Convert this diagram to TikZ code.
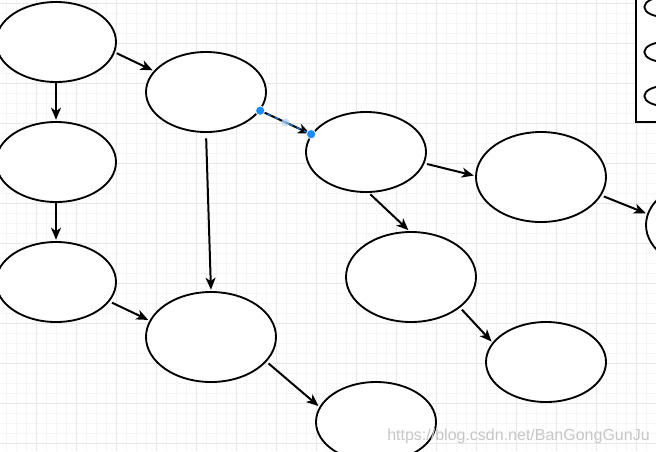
\documentclass[tikz,border=0pt]{standalone}
\usepackage{fontspec}
\setmainfont{Liberation Sans}
\usetikzlibrary{shapes.geometric,arrows.meta,calc}
\definecolor{minorgrid}{HTML}{F5F5F5}
\definecolor{majorgrid}{HTML}{E7E7E7}
\definecolor{handle}{HTML}{1A8CFF}
\begin{document}
\begin{tikzpicture}[x=0.75pt,y=-0.75pt,
 ell/.style={ellipse, draw=black, fill=white, line width=1.4pt, inner sep=0pt, minimum width=90pt, minimum height=60pt},
 big/.style={ell, minimum width=97.5pt, minimum height=67.5pt},
 small/.style={ell, minimum width=31pt, minimum height=15pt},
 conn/.style={line width=1.5pt, shorten >=1pt, -{Stealth[length=9pt,width=7.5pt,inset=2.5pt]}},
 hdl/.style={circle, fill=handle, draw=white, line width=0.6pt, minimum size=7pt, inner sep=0pt},
 ]
\useasboundingbox (0,0) rectangle (656,451);
\clip (0,0) rectangle (656,451);
\fill[white] (0,0) rectangle (656,451);
\foreach \x in {6,16,...,656} \draw[minorgrid, line width=0.75pt] (\x,0) -- (\x,451);
\foreach \y in {3,13,...,451} \draw[minorgrid, line width=0.75pt] (0,\y) -- (656,\y);
\foreach \x in {36,76,...,656} \draw[majorgrid, line width=0.75pt] (\x,0) -- (\x,451);
\foreach \y in {3,43,...,451} \draw[majorgrid, line width=0.75pt] (0,\y) -- (656,\y);

\node[ell] (e1) at (56,42) {};
\node[ell] (e2) at (56,162) {};
\node[ell] (e3) at (56,282) {};
\node[ell] (e4) at (206,92) {};
\node[ell] (e5) at (366,152) {};
\node[big] (e6) at (541,177) {};
\node[big] (e7) at (711,225) {};
\node[big] (e8) at (411,277) {};
\node[ell] (e9) at (546,362) {};
\node[big] (e10) at (211,337) {};
\node[ell] (e11) at (376,422) {};

\draw[line width=1.5pt, fill=white] (636,-5) rectangle (690,122);
\node[small] (p1) at (665,7) {};
\node[small] (p2) at (665,52) {};
\node[small] (p3) at (665,96) {};

\draw[conn, shorten <=1.5pt] (e1.-10) -- (e4.158);
\draw[conn] (e1.south) -- (e2.north);
\draw[conn] (e2.south) -- (e3.north);
\draw[conn, shorten <=2pt] (e3.-20) -- (e10.165);
\draw[conn, shorten <=4pt] (e4.south) -- (e10.north);
\draw[conn, shorten <=1.5pt] (e4.-19.7) -- (e5.162.5);
\draw[handle, line width=1pt, dash pattern=on 3pt off 3pt, opacity=0.8] (e4.-19.7) -- (e5.162.5);
\draw[conn, shorten <=2pt] (e5.-11) -- (e6.179);
\draw[conn, shorten <=1.5pt] (e5.-86) -- (e8.92);
\draw[conn, shorten <=2pt] (e6.-17) -- (e7.170);
\draw[conn, shorten <=2pt] (e8.-32) -- (e9.160);
\draw[conn, shorten <=2pt] (e10.-24) -- (e11.165);

\node[hdl] (h1) at (e4.-19.7) {};
\node[hdl] (h2) at (e5.162.5) {};
\node[circle, fill=handle!35, minimum size=6pt, inner sep=0pt, opacity=0.7] (hm) at ($(h1)!0.5!(h2)$) {};

\node[anchor=base west, text=black!22, font=\fontsize{12pt}{13pt}\selectfont, inner sep=0pt] (wm) at (387,440) {https://blog.csdn.net/BanGongGunJu};
\end{tikzpicture}
\end{document}
